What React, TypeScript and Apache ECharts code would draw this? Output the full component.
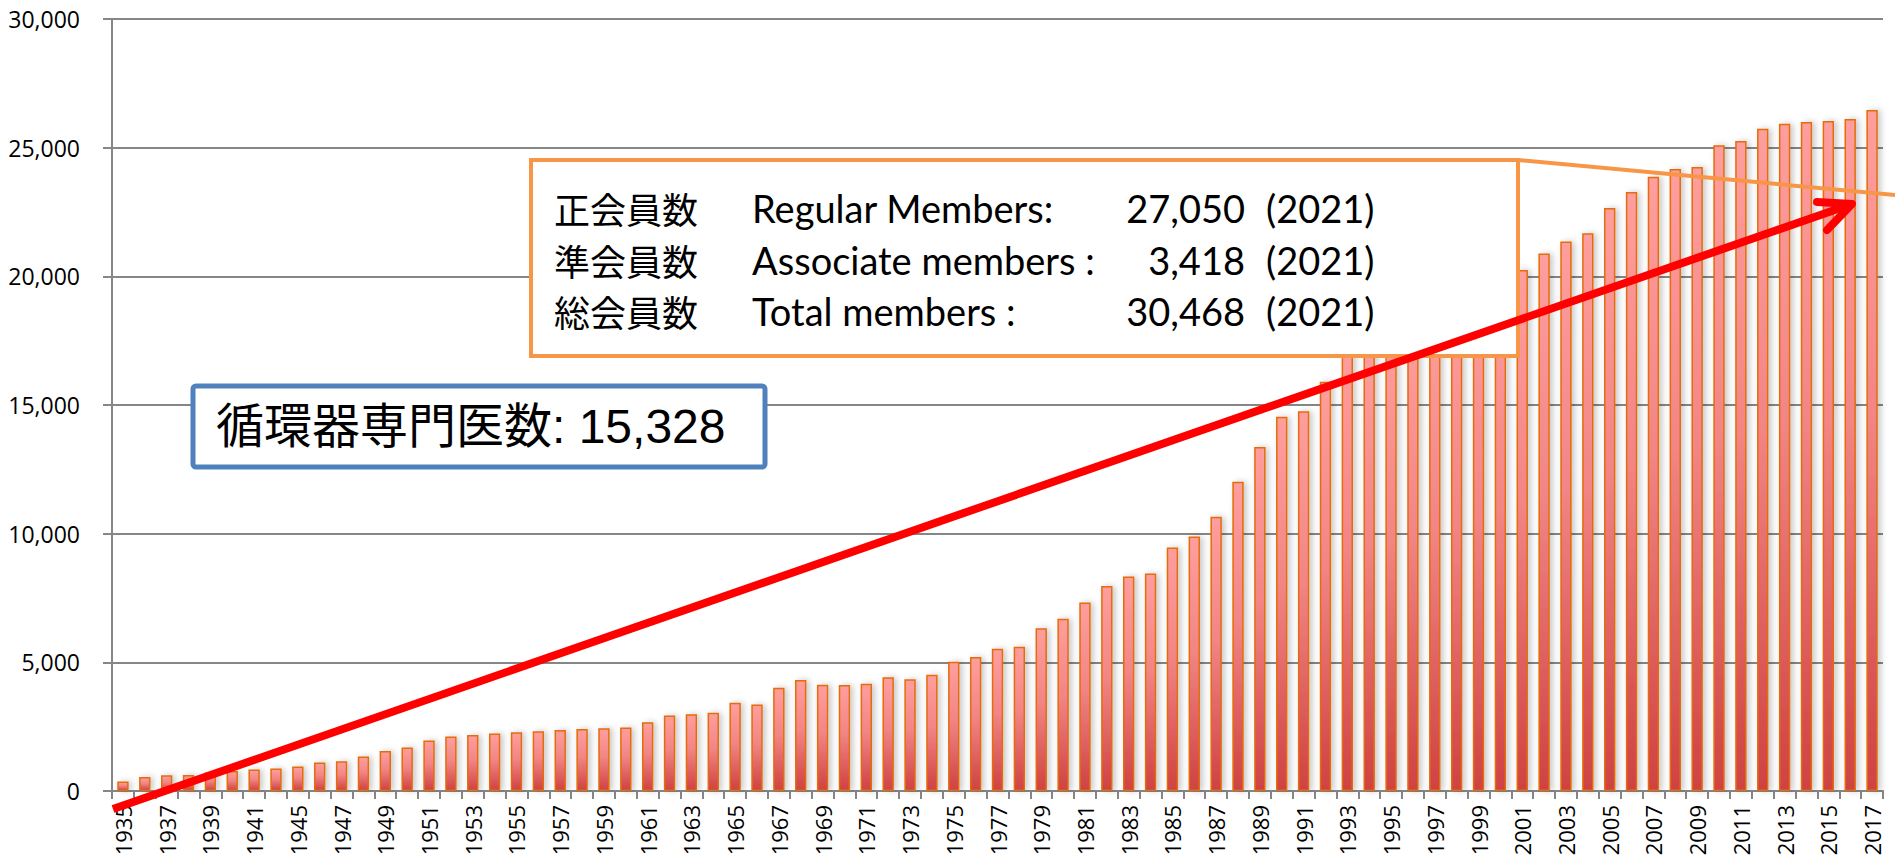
import React, { useEffect, useRef } from "react";
import * as echarts from "echarts";

const years: string[] = [
  "1935", "1936", "1937", "1938", "1939", "1940", "1941", "1943",
  "1945", "1946", "1947", "1948", "1949", "1950", "1951", "1952", "1953", "1954",
  "1955", "1956", "1957", "1958", "1959", "1960", "1961", "1962", "1963", "1964",
  "1965", "1966", "1967", "1968", "1969", "1970", "1971", "1972", "1973", "1974",
  "1975", "1976", "1977", "1978", "1979", "1980", "1981", "1982", "1983", "1984",
  "1985", "1986", "1987", "1988", "1989", "1990", "1991", "1992", "1993", "1994",
  "1995", "1996", "1997", "1998", "1999", "2000", "2001", "2002", "2003", "2004",
  "2005", "2006", "2007", "2008", "2009", "2010", "2011", "2012", "2013", "2014",
  "2015", "2016", "2017",
];

const members: number[] = [
  366, 545, 611, 623, 716, 780, 833, 872,
  950, 1106, 1157, 1340, 1558, 1690, 1963, 2118, 2180, 2235,
  2280, 2320, 2375, 2410, 2440, 2468, 2675, 2935, 2987, 3037,
  3427, 3364, 4011, 4315, 4128, 4120, 4167, 4416, 4345, 4517,
  5018, 5206, 5530, 5607, 6324, 6698, 7321, 7965, 8333, 8450,
  9462, 9891, 10658, 12021, 13372, 14540, 14758, 15903, 17000, 17300,
  17700, 18100, 18450, 18900, 19350, 19800, 20249, 20887, 21355, 21678,
  22652, 23275, 23870, 24170, 24248, 25093, 25260, 25739, 25934, 26000,
  26039, 26117, 26468,
];

const yTicks = { min: 0, max: 30000, interval: 5000 };

const infoJa: string[] = ["正会員数", "準会員数", "総会員数"];
const infoEn: string[] = ["Regular Members:", "Associate members :", "Total members :"];
const infoNum: string[] = ["27,050", "3,418", "30,468"];
const infoYear: string[] = ["(2021)", "(2021)", "(2021)"];

const specialistText = "循環器専門医数: 15,328";

export default function App() {
  const ref = useRef<HTMLDivElement>(null);

  useEffect(() => {
    if (!ref.current) return;
    const chart = echarts.init(ref.current, undefined, { renderer: "svg" });

    const rowY = [208, 260, 311];
    const infoTexts: any[] = [];
    rowY.forEach((y, i) => {
      infoTexts.push({
        type: "text", x: 554, y,
        style: { text: infoJa[i], fontSize: 36, lineHeight: 40, fontFamily: "Noto Sans CJK JP", fill: "#000", verticalAlign: "middle" },
      });
      infoTexts.push({
        type: "text", x: 752, y,
        style: { text: infoEn[i], fontSize: 38, lineHeight: 42, fontFamily: "Lato, Noto Sans", fill: "#000", verticalAlign: "middle" },
      });
      infoTexts.push({
        type: "text", x: 1245, y,
        style: { text: infoNum[i], fontSize: 38, lineHeight: 42, fontFamily: "Lato, Noto Sans", fill: "#000", verticalAlign: "middle", align: "right" },
      });
      infoTexts.push({
        type: "text", x: 1266, y,
        style: { text: infoYear[i], fontSize: 38, lineHeight: 42, fontFamily: "Lato, Noto Sans", fill: "#000", verticalAlign: "middle" },
      });
    });

    chart.setOption({
      animation: false,
      backgroundColor: "#ffffff",
      grid: { left: 112, right: 12, top: 19, bottom: 74, containLabel: false, outerBoundsMode: "none" },
      xAxis: {
        type: "category",
        data: years,
        boundaryGap: true,
        axisLine: { lineStyle: { color: "#868686", width: 2 } },
        axisTick: { show: true, interval: 0, length: 8, lineStyle: { color: "#868686", width: 2 } },
        axisLabel: {
          interval: 1,
          rotate: 90,
          margin: 14,
          fontSize: 22,
          color: "#000",
          fontFamily: "Open Sans",
        },
        splitLine: { show: false },
      },
      yAxis: {
        type: "value",
        min: yTicks.min,
        max: yTicks.max,
        interval: yTicks.interval,
        axisLine: { show: true, lineStyle: { color: "#868686", width: 2 } },
        axisTick: { show: true, length: 9, lineStyle: { color: "#868686", width: 2 } },
        axisLabel: {
          margin: 32,
          fontSize: 23,
          color: "#000",
          fontFamily: "Open Sans",
          formatter: (v: number) => v.toLocaleString("en-US"),
        },
        splitLine: { show: true, lineStyle: { color: "#868686", width: 2 } },
      },
      series: [
        {
          type: "bar",
          data: members,
          barWidth: "52%",
          itemStyle: {
            color: new echarts.graphic.LinearGradient(0, 0, 0, 1, [
              { offset: 0, color: "#FF9E9E" },
              { offset: 0.45, color: "#F28585" },
              { offset: 1, color: "#CF4242" },
            ]),
            borderColor: "#E46C0A",
            borderWidth: 1.5,
            shadowColor: "rgba(0,0,0,0.22)",
            shadowBlur: 6,
            shadowOffsetX: 3,
            shadowOffsetY: 0,
          },
        },
      ],
      graphic: [
        {
          type: "rect",
          shape: { x: 531, y: 160, width: 987, height: 196 },
          style: { fill: "#ffffff", stroke: "#F79646", lineWidth: 4 },
          z: 10,
        },
        {
          type: "line",
          shape: { x1: 1518, y1: 160, x2: 1895, y2: 195 },
          style: { stroke: "#F79646", lineWidth: 4 },
          z: 10,
        },
        ...infoTexts.map((t) => ({ ...t, z: 11 })),
        {
          type: "rect",
          shape: { x: 193, y: 386, width: 572, height: 81, r: 3 },
          style: { fill: "#ffffff", stroke: "#4F81BD", lineWidth: 5 },
          z: 10,
        },
        {
          type: "text",
          x: 216,
          y: 426,
          z: 11,
          style: {
            text: specialistText,
            fontSize: 48,
            lineHeight: 52,
            fontFamily: "Liberation Sans, Noto Sans CJK JP",
            fill: "#000",
            verticalAlign: "middle",
          },
        },
        {
          type: "line",
          shape: { x1: 113, y1: 809, x2: 1852, y2: 204 },
          style: { stroke: "#FF0000", lineWidth: 8 },
          z: 20,
        },
        {
          type: "polyline",
          shape: { points: [[1817, 202], [1852, 204], [1827, 230]] },
          style: { stroke: "#FF0000", lineWidth: 8, fill: "none", lineCap: "round", lineJoin: "round" },
          z: 20,
        },
      ],
    });

    return () => chart.dispose();
  }, []);

  return (
    <div
      ref={ref}
      style={{ position: "absolute", left: 0, top: 0, width: 1895, height: 865 }}
    />
  );
}
